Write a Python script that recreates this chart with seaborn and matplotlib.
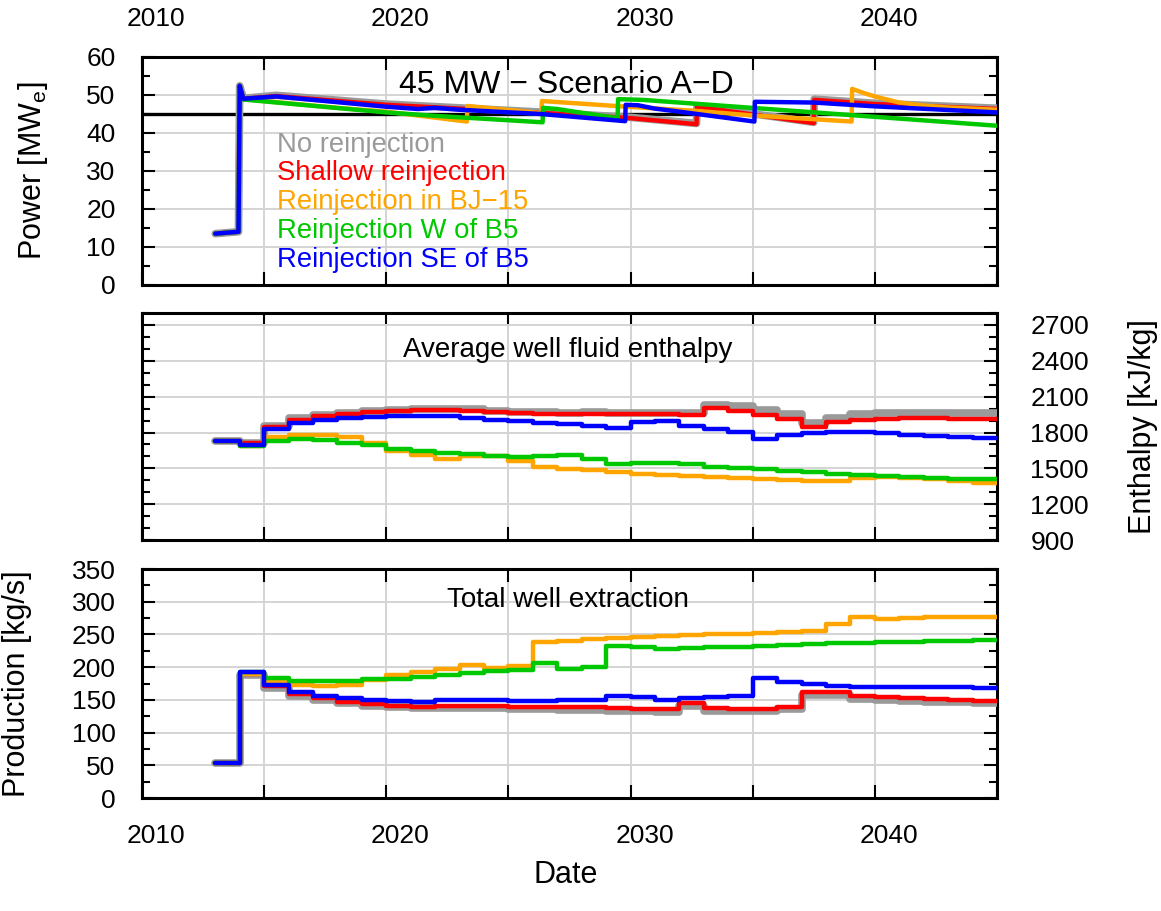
import numpy as np
import matplotlib
matplotlib.use("Agg")
import matplotlib.pyplot as plt
import matplotlib.transforms as mtransforms
from matplotlib.ticker import MultipleLocator
import seaborn as sns

sns.set_theme(style="white")
plt.rcParams["font.family"] = ["Liberation Sans", "DejaVu Sans"]
plt.rcParams["mathtext.fontset"] = "custom"
plt.rcParams["mathtext.rm"] = "Liberation Sans"
plt.rcParams["mathtext.it"] = "Liberation Sans:italic"
plt.rcParams["text.color"] = "black"
plt.rcParams["axes.labelcolor"] = "black"

# ---------------------------------------------------------------- data
scenarios = ["No reinjection", "Shallow reinjection", "Reinjection in BJ\u221215",
             "Reinjection W of B5", "Reinjection SE of B5"]
colors = ["#9a9a9a", "#ff0000", "#ffa500", "#00c800", "#0000ff"]
widths = [5.5, 3.2, 3.2, 3.2, 3.2]

# Net power output [MWe]
power_t_none = [2013.0, 2013.95, 2014.0, 2014.15, 2015.5, 2020.0, 2026.3, 2030.0,
                2032.7, 2032.72, 2037.5, 2037.52, 2040.0, 2045.0]
power_none = [13.5, 14.0, 52.4, 49.1, 49.9, 47.6, 45.5, 44.1, 42.5, 47.1, 42.8, 48.9, 47.8, 46.5]
power_t_shallow = power_t_none
power_shallow = [13.5, 14.0, 52.4, 49.0, 49.7, 47.4, 45.3, 43.9, 42.3, 46.9, 42.6, 48.7, 47.6, 46.3]
power_t_bj15 = [2013.0, 2013.95, 2014.0, 2014.15, 2018.0, 2020.0, 2023.3, 2023.32, 2026.35,
                2026.37, 2027.3, 2029.6, 2032.7, 2035.0, 2039.05, 2039.07, 2039.5, 2040.0,
                2041.0, 2042.0, 2043.0, 2045.0]
power_bj15 = [13.5, 14.0, 52.4, 48.9, 46.6, 45.6, 43.0, 47.1, 45.2, 48.4, 48.0, 47.0, 45.8,
              44.6, 43.0, 51.6, 50.6, 49.6, 48.0, 47.2, 46.7, 46.1]
power_t_west = [2013.0, 2013.95, 2014.0, 2014.15, 2020.0, 2022.0, 2026.4, 2026.42, 2027.0,
                2028.0, 2029.47, 2029.49, 2030.5, 2045.0]
power_west = [13.5, 14.0, 52.4, 48.8, 45.4, 44.5, 42.8, 46.6, 46.3, 45.3, 43.9, 48.9, 48.7, 41.9]
power_t_se = [2013.0, 2013.95, 2014.0, 2014.15, 2015.5, 2020.0, 2021.3, 2022.0, 2023.0,
              2026.3, 2029.78, 2029.8, 2030.3, 2031.0, 2032.0, 2035.07, 2035.09, 2037.5,
              2040.0, 2045.0]
power_se = [13.5, 14.0, 52.4, 49.0, 49.6, 46.9, 46.3, 46.6, 46.1, 45.0, 43.1, 47.4, 47.3,
            46.4, 45.6, 43.0, 48.2, 48.0, 47.0, 45.4]
target_power = 45.0

# Yearly values, 2013 ... 2044 (each held for one year)
years = list(range(2013, 2045))

enthalpy_none = [1728, 1716, 1855, 1918, 1945, 1965, 1980, 1990, 1996, 1999, 1993, 1983,
                 1975, 1969, 1966, 1968, 1967, 1966, 1964, 1960, 2032, 2022, 1992, 1958,
                 1880, 1922, 1953, 1962, 1964, 1964, 1965, 1965]
enthalpy_shallow = [1728, 1712, 1845, 1908, 1936, 1958, 1972, 1983, 1989, 1992, 1983, 1972,
                    1964, 1958, 1955, 1958, 1955, 1955, 1953, 1945, 2003, 1983, 1950, 1914,
                    1847, 1886, 1908, 1917, 1919, 1919, 1917, 1912]
enthalpy_bj15 = [1728, 1690, 1764, 1775, 1778, 1764, 1714, 1644, 1611, 1578, 1606, 1605,
                 1561, 1510, 1495, 1486, 1469, 1455, 1444, 1436, 1428, 1417, 1408, 1400,
                 1391, 1394, 1422, 1430, 1419, 1408, 1394, 1378]
enthalpy_west = [1728, 1688, 1728, 1745, 1736, 1714, 1695, 1660, 1648, 1632, 1617, 1603,
                 1592, 1600, 1608, 1575, 1533, 1547, 1547, 1533, 1514, 1505, 1492, 1478,
                 1469, 1455, 1444, 1436, 1428, 1422, 1414, 1408]
enthalpy_se = [1728, 1692, 1831, 1881, 1908, 1925, 1933, 1936, 1936, 1934, 1922, 1908,
               1894, 1880, 1870, 1853, 1839, 1889, 1894, 1853, 1833, 1805, 1747, 1783,
               1797, 1803, 1805, 1792, 1778, 1769, 1764, 1753]

production_none = [53, 188, 168, 156, 150, 145, 141, 139, 137, 137.5, 138, 137, 136.5, 136,
                   135, 134, 133, 132.5, 132, 141, 133, 133, 133, 135.5, 158, 157.5, 152,
                   150, 148, 147, 146, 145]
production_shallow = [53, 190, 171, 158.4, 152.3, 146.7, 143.1, 141.1, 139.6, 140.1, 140.5,
                      140.5, 139.6, 138.6, 138.5, 138.6, 137, 136, 135.5, 145.7, 137, 136,
                      136.5, 139.6, 162.5, 161.5, 155.9, 153.8, 152.3, 150.8, 149.8, 148.7]
production_bj15 = [53, 190, 179.3, 172.7, 171.2, 172.7, 181, 188, 192.5, 196.6, 203.8,
                   198.2, 202.2, 237.9, 239.5, 242.5, 244, 246.6, 248.1, 249.1, 250.1,
                   251.1, 252.7, 253.7, 255.2, 265.9, 276.1, 273.5, 275.1, 276.1, 277.1,
                   276.1]
production_west = [53, 193, 184, 179.3, 178.8, 179.3, 181.3, 182.4, 184.4, 187.5, 191.5,
                   193.6, 195.6, 205.8, 197.1, 199.7, 232.3, 230.2, 228.2, 228.7, 230.2,
                   231.3, 232.8, 233.8, 234.8, 236.4, 237.4, 237.9, 238.9, 239.4, 240.4, 241]
production_se = [53, 192, 172, 162.5, 156.4, 152.3, 149.8, 148.2, 147.2, 149.8, 149.8,
                 149.8, 148.7, 148.7, 149.5, 149.8, 155.9, 153.8, 149.8, 152.3, 153.8,
                 156.4, 182.9, 176.8, 174.2, 171.7, 170.1, 169.1, 169, 169, 169, 168.6]

power_t = [power_t_none, power_t_shallow, power_t_bj15, power_t_west, power_t_se]
power = [power_none, power_shallow, power_bj15, power_west, power_se]
enthalpy = [enthalpy_none, enthalpy_shallow, enthalpy_bj15, enthalpy_west, enthalpy_se]
production = [production_none, production_shallow, production_bj15, production_west,
              production_se]

# ---------------------------------------------------------------- figure
fig = plt.figure(figsize=(11.61, 9.11), dpi=100)
left, width = 0.1223, 0.7364
ax1 = fig.add_axes([left, 0.6872, width, 0.2503])
ax2 = fig.add_axes([left, 0.4072, width, 0.2492])
ax3 = fig.add_axes([left, 0.1240, width, 0.2514])

step_years = years + [2045]

for i, name in enumerate(scenarios):
    sns.lineplot(x=power_t[i], y=power[i], ax=ax1, color=colors[i], linewidth=widths[i],
                 estimator=None, sort=False, label=name, zorder=3 + i)
    sns.lineplot(x=step_years, y=enthalpy[i] + [enthalpy[i][-1]], ax=ax2, color=colors[i],
                 linewidth=widths[i], estimator=None, sort=False, drawstyle="steps-post",
                 legend=False, zorder=3 + i)
    sns.lineplot(x=step_years, y=production[i] + [production[i][-1]], ax=ax3,
                 color=colors[i], linewidth=widths[i], estimator=None, sort=False,
                 drawstyle="steps-post", legend=False, zorder=3 + i)

ax1.axhline(target_power, color="black", linewidth=2.4, zorder=2)

tick_fs = 19
shift = mtransforms.ScaledTranslation(14 / 100, 0, fig.dpi_scale_trans)
xt = list(range(2010, 2046, 5))
xl = [str(y) if y % 10 == 0 else "" for y in xt]

for ax in (ax1, ax2, ax3):
    ax.set_xlim(2010, 2045)
    ax.set_xticks(xt)
    ax.set_xticklabels(xl)
    ax.grid(True, which="major", color="#d4d4d4", linewidth=1.4, zorder=0)
    ax.set_axisbelow(True)
    for sp in ax.spines.values():
        sp.set_visible(True)
        sp.set_color("black")
        sp.set_linewidth(2.2)
    ax.tick_params(which="both", direction="in", top=True, bottom=True, left=True,
                   right=True, colors="black", labelsize=tick_fs, width=1.5)
    ax.tick_params(which="major", length=9.5)
    ax.tick_params(which="minor", length=5.5)
    ax.tick_params(axis="x", which="major", pad=19)
    ax.set_xlabel("")
    ax.set_ylabel("")

ax1.tick_params(axis="x", labeltop=True, labelbottom=False)
ax2.tick_params(axis="x", labeltop=False, labelbottom=False)
ax3.tick_params(axis="x", labeltop=False, labelbottom=True)
for ax in (ax1, ax3):
    for lab in ax.get_xticklabels():
        lab.set_transform(lab.get_transform() + shift)

ax1.set_ylim(0, 60)
ax1.yaxis.set_major_locator(MultipleLocator(10))
ax1.yaxis.set_minor_locator(MultipleLocator(5))
ax1.tick_params(axis="y", pad=19)

ax2.set_ylim(900, 2800)
ax2.set_yticks(range(900, 2701, 300))
ax2.yaxis.set_minor_locator(MultipleLocator(100))
ax2.tick_params(axis="y", labelleft=False, labelright=True, pad=24)

ax3.set_ylim(0, 350)
ax3.yaxis.set_major_locator(MultipleLocator(50))
ax3.yaxis.set_minor_locator(MultipleLocator(25))
ax3.tick_params(axis="y", pad=19)

# axis titles
lab_fs = 22
ax1.set_ylabel("Power [MW$_\\mathregular{e}$]", fontsize=lab_fs, color="black")
ax1.yaxis.set_label_coords(-0.108, 0.5)
ax2.yaxis.set_label_position("right")
ax2.set_ylabel("Enthalpy [kJ/kg]", fontsize=lab_fs, rotation=90, color="black")
ax2.yaxis.set_label_coords(1.153, 0.5)
ax3.set_ylabel("Production [kg/s]", fontsize=lab_fs, color="black")
ax3.yaxis.set_label_coords(-0.129, 0.5)
ax3.set_xlabel("Date", fontsize=lab_fs, color="black")
ax3.xaxis.set_label_coords(0.496, -0.27)

# panel captions
ax1.text(0.496, 0.875, "45 MW \u2212 Scenario A\u2212D", transform=ax1.transAxes,
         ha="center", va="center", fontsize=23, color="black")
ax2.text(0.498, 0.837, "Average well fluid enthalpy", transform=ax2.transAxes,
         ha="center", va="center", fontsize=20, color="black")
ax3.text(0.498, 0.865, "Total well extraction", transform=ax3.transAxes,
         ha="center", va="center", fontsize=20, color="black")

# colored text legend
leg = ax1.legend(loc="upper left", bbox_to_anchor=(0.158, 0.672), frameon=False,
                 handlelength=0, handletextpad=0, borderpad=0, borderaxespad=0,
                 labelspacing=0.1, fontsize=19.8, labelcolor="linecolor")
for h in leg.legend_handles:
    h.set_visible(False)

fig.savefig("out.png", dpi=100)
